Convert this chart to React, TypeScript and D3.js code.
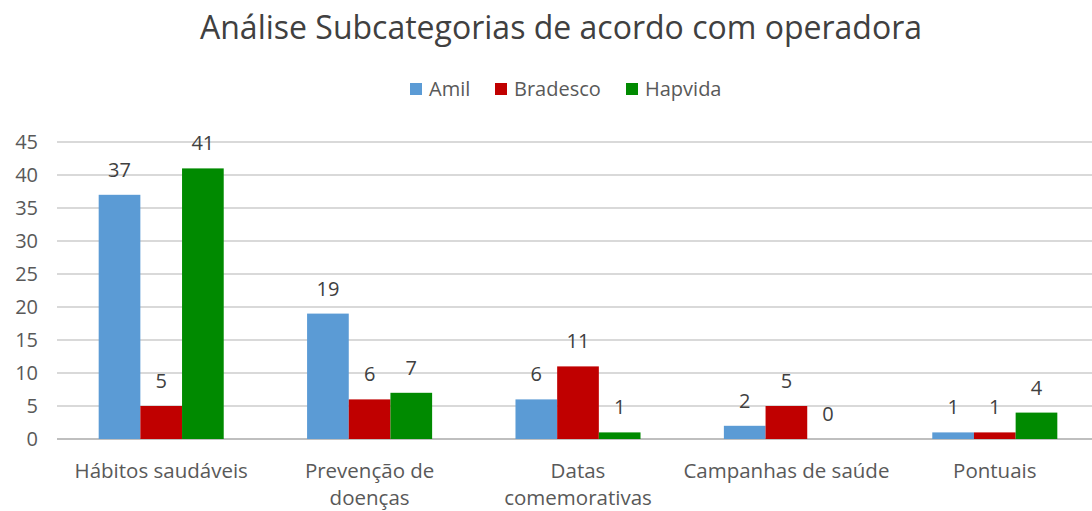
import React from 'react';
import * as d3 from 'd3';

const categories = [
  ['Hábitos saudáveis'],
  ['Prevenção de', 'doenças'],
  ['Datas', 'comemorativas'],
  ['Campanhas de saúde'],
  ['Pontuais']
];
const seriesNames = ['Amil', 'Bradesco', 'Hapvida'];
const seriesColors = ['#5b9bd5', '#c00000', '#008a00'];
const amil = [37, 19, 6, 2, 1];
const bradesco = [5, 6, 11, 5, 1];
const hapvida = [41, 7, 1, 0, 4];
const yTicks = [0, 5, 10, 15, 20, 25, 30, 35, 40, 45];

const W = 1092;
const H = 511;
const FONT = '"Open Sans", sans-serif';

const App = () => {
  const series = [amil, bradesco, hapvida];
  const left = 57;
  const right = 1099;
  const y = d3.scaleLinear().domain([0, 45]).range([439, 142]);
  const x0 = d3
    .scaleBand<number>()
    .domain(categories.map((_, i) => i))
    .range([left, right])
    .paddingInner(0.4)
    .paddingOuter(0.2);
  const x1 = d3.scaleBand<number>().domain([0, 1, 2]).range([0, x0.bandwidth()]);

  // legend positions
  const legendX = [410, 495, 626];

  return (
    <svg width={W} height={H} style={{ position: 'absolute', left: 0, top: 0, background: '#fff' }}>
      <text x={561} y={39} textAnchor="middle" fontFamily={FONT} fontSize={32} fill="#404040">
        Análise Subcategorias de acordo com operadora
      </text>

      {seriesNames.map((s, i) => (
        <g key={s}>
          <rect x={legendX[i]} y={83} width={12} height={12} fill={seriesColors[i]} />
          <text x={legendX[i] + 19} y={96} fontFamily={FONT} fontSize={20} fill="#595959">
            {s}
          </text>
        </g>
      ))}

      {yTicks.map((t) => (
        <g key={t}>
          <line x1={left} x2={W} y1={y(t)} y2={y(t)} stroke={t === 0 ? '#bfbfbf' : '#d9d9d9'} strokeWidth={2} />
          <text x={38} y={y(t) + 7} textAnchor="end" fontFamily={FONT} fontSize={20} fill="#595959">
            {t}
          </text>
        </g>
      ))}

      {categories.map((c, ci) => (
        <g key={ci} transform={`translate(${x0(ci)},0)`}>
          {series.map((vals, si) => {
            const v = vals[ci];
            const bx = x1(si) as number;
            return (
              <g key={si}>
                <rect x={bx} y={y(v)} width={x1.bandwidth()} height={y(0) - y(v)} fill={seriesColors[si]} />
                <text
                  x={bx + x1.bandwidth() / 2}
                  y={y(v) - 18}
                  textAnchor="middle"
                  fontFamily={FONT}
                  fontSize={20}
                  fill="#404040"
                >
                  {v}
                </text>
              </g>
            );
          })}
          {c.map((line, li) => (
            <text
              key={li}
              x={x0.bandwidth() / 2}
              y={478 + li * 27}
              textAnchor="middle"
              fontFamily={FONT}
              fontSize={20.5}
              fill="#595959"
            >
              {line}
            </text>
          ))}
        </g>
      ))}
    </svg>
  );
};

export default App;
